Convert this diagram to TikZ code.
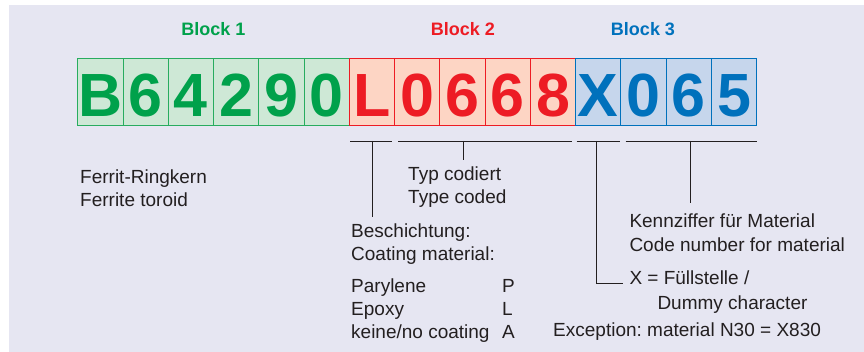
\documentclass[tikz,border=0pt]{standalone}
\usepackage{fontspec}
\setmainfont{Liberation Sans}
\usetikzlibrary{calc}
\definecolor{bg}{RGB}{230,230,242}
\definecolor{gtxt}{RGB}{0,161,75}
\definecolor{gfill}{RGB}{206,232,214}
\definecolor{gline}{RGB}{40,172,95}
\definecolor{rtxt}{RGB}{237,28,36}
\definecolor{rfill}{RGB}{253,213,196}
\definecolor{btxt}{RGB}{0,113,188}
\definecolor{bfill}{RGB}{198,214,236}
\definecolor{ink}{RGB}{35,31,32}
\frenchspacing
\begin{document}
\begin{tikzpicture}[x=1pt,y=-1pt,
  digit/.style={minimum width=45.3pt, minimum height=67.4pt, inner sep=0pt, outer sep=0pt,
    font=\fontsize{61}{61}\selectfont\bfseries, text height=50pt, text depth=0pt, line width=0.9pt},
  gbox/.style={digit, draw=gline, fill=gfill, text=gtxt},
  rbox/.style={digit, draw=rtxt, fill=rfill, text=rtxt},
  bbox/.style={digit, draw=btxt, fill=bfill, text=btxt},
  blk/.style={font=\fontsize{18}{22}\selectfont\bfseries, anchor=base, inner sep=0pt},
  txt/.style={font=\fontsize{19}{23}\selectfont, text=ink, anchor=base west, inner sep=0pt},
  conn/.style={draw=ink, line width=0.9pt}
]
\useasboundingbox (0,0) rectangle (864,352);
\fill[bg] (9,5) rectangle (864,352);

% block labels
\node[blk, text=gtxt] (l1) at (213.5,36) {Block 1};
\node[blk, text=rtxt] (l2) at (463,36) {Block 2};
\node[blk, text=btxt] (l3) at (643,36) {Block 3};

% digit boxes
\node[gbox] (b1) at (100.34,92) {B};
\node[gbox] (b2) at (145.61,92) {6};
\node[gbox] (b3) at (190.88,92) {4};
\node[gbox] (b4) at (236.15,92) {2};
\node[gbox] (b5) at (281.42,92) {9};
\node[gbox] (b6) at (326.69,92) {0};
\node[rbox] (b7) at (371.96,92) {L};
\node[rbox] (b8) at (417.23,92) {0};
\node[rbox] (b9) at (462.50,92) {6};
\node[rbox] (b10) at (507.77,92) {6};
\node[rbox] (b11) at (553.04,92) {8};
\node[bbox] (b12) at (598.31,92) {X};
\node[bbox] (b13) at (643.58,92) {0};
\node[bbox] (b14) at (688.85,92) {6};
\node[bbox] (b15) at (734.12,92) {5};

% texts
\node[txt] (fa) at (80,183.5) {Ferrit-Ringkern};
\node[txt] (fb) at (80,206.5) {Ferrite toroid};
\node[txt] (ta) at (408,180.7) {Typ codiert};
\node[txt] (tb) at (408,204) {Type coded};
\node[txt] (ca) at (351,237.3) {Beschichtung:};
\node[txt] (cb) at (351,260.3) {Coating material:};
\node[txt] (p1) at (351,292.7) {Parylene};
\node[txt] (p2) at (351,315.7) {Epoxy};
\node[txt] (p3) at (351,338.7) {keine/no coating};
\node[txt] (q1) at (502,292.7) {P};
\node[txt] (q2) at (502,315.7) {L};
\node[txt] (q3) at (502,338.7) {A};
\node[txt] (ka) at (629.3,228) {Kennziffer für Material};
\node[txt] (kb) at (629.3,251.7) {Code number for material};
\node[txt] (xa) at (629.3,284.3) {X = Füllstelle /};
\node[txt] (xb) at (657.3,309.3) {Dummy character};
\node[txt] (ex) at (553,336) {Exception: material N30 = X830};

% brackets
\coordinate (s1a) at (350,141); \coordinate (s1b) at (392,141);
\coordinate (s2a) at (398,141); \coordinate (s2b) at (572,141);
\coordinate (s3a) at (576.7,141); \coordinate (s3b) at (619.5,141);
\coordinate (s4a) at (625.7,141); \coordinate (s4b) at (757,141);
\draw[conn] (s1a) -- (s1b);
\draw[conn] (s2a) -- (s2b);
\draw[conn] (s3a) -- (s3b);
\draw[conn] (s4a) -- (s4b);

% connectors
\coordinate (v1) at (372.3,141);
\coordinate (v2) at (463.3,141);
\coordinate (v3) at (596.7,141);
\coordinate (v4) at (690.7,141);
\coordinate (e1) at ($(v1 |- ca.north)+(0,-6.7)$);
\coordinate (e2) at ($(v2 |- ta.north)+(0,-6.9)$);
\coordinate (e4) at (690.7,203);
\coordinate (e3) at ($(xa.base west)+(-6,-0.8)$);
\draw[conn] (v1) -- (e1);
\draw[conn] (v2) -- (e2);
\draw[conn] (v4) -- (e4);
\draw[conn] (v3) |- (e3);
\end{tikzpicture}
\end{document}
